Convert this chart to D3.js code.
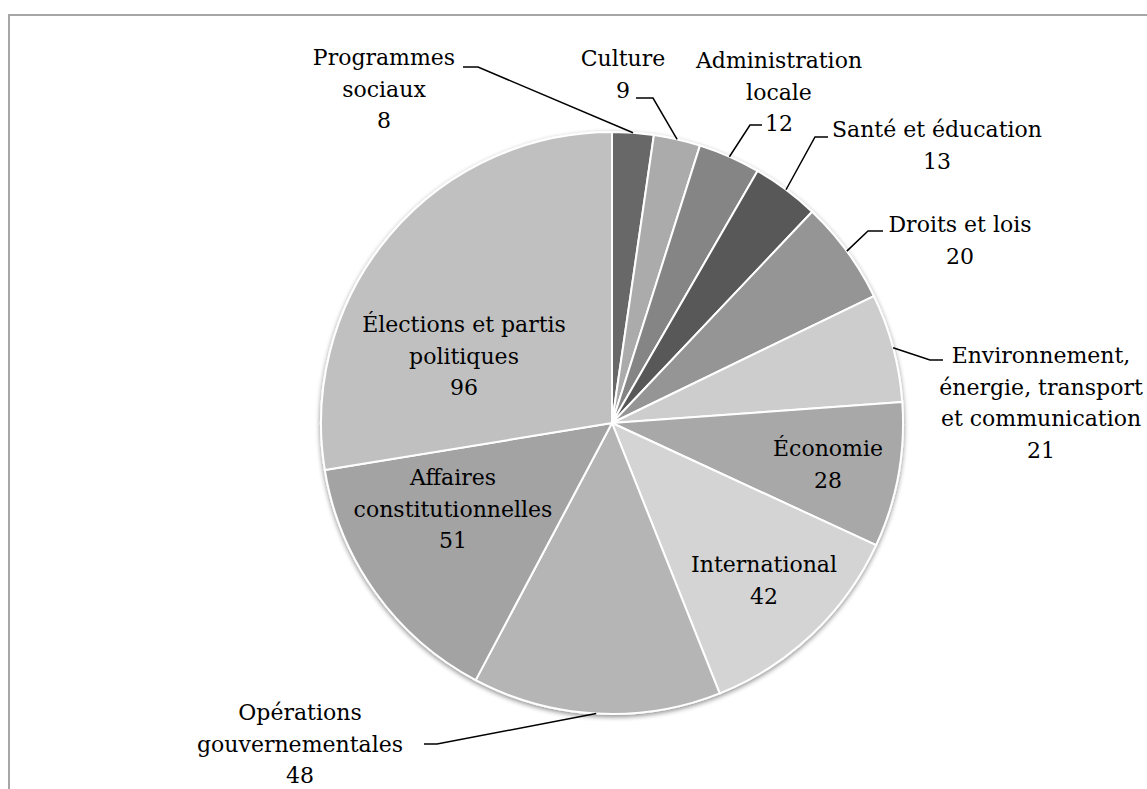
<!DOCTYPE html>
<html>
<head>
<meta charset="utf-8">
<script src="https://cdn.jsdelivr.net/npm/d3@7"></script>
<style>
  html, body { margin: 0; padding: 0; background: #ffffff; }
  svg { display: block; }
  text { font-family: "DejaVu Serif", "Liberation Serif", serif; font-size: 22px; fill: #000; }
</style>
</head>
<body>
<svg id="chart" width="1147" height="789"></svg>
<script>
// Number of items by subject
const categories = [
  "Programmes sociaux", "Culture", "Administration locale", "Santé et éducation",
  "Droits et lois", "Environnement, énergie, transport et communication",
  "Économie", "International", "Opérations gouvernementales",
  "Affaires constitutionnelles", "Élections et partis politiques"
];
const values = [8, 9, 12, 13, 20, 21, 28, 42, 48, 51, 96];

// Text of each data label, split into lines
const labelLines = [
  ["Programmes", "sociaux"], ["Culture"], ["Administration", "locale"],
  ["Santé et éducation"], ["Droits et lois"],
  ["Environnement,", "énergie, transport", "et communication"],
  ["Économie"], ["International"], ["Opérations", "gouvernementales"],
  ["Affaires", "constitutionnelles"], ["Élections et partis", "politiques"]
];

// Grey shade of each slice
const sliceColors = [
  "#686868", "#ababab", "#858585", "#595959", "#959595", "#cdcdcd",
  "#a8a8a8", "#d4d4d4", "#b5b5b5", "#a3a3a3", "#c0c0c0"
];

// Label placement: centre x, first baseline, leader elbow and end (null = inside slice)
const labelLayout = [
  { x: 384, y: 65, leader: [[478, 67], [463, 67]] },
  { x: 623, y: 66, leader: [[653, 98], [636, 98]] },
  { x: 779, y: 68, leader: [[750, 125], [762, 125]] },
  { x: 937, y: 137, leader: [[815, 137], [828, 137]] },
  { x: 960, y: 232, leader: [[868, 231], [883, 231]] },
  { x: 1041, y: 363, leader: [[930, 360], [943, 360]] },
  { x: 828, y: 456, leader: null },
  { x: 764, y: 572, leader: null },
  { x: 300, y: 720, leader: [[437, 744], [424, 744]] },
  { x: 453, y: 485, leader: null },
  { x: 464, y: 332, leader: null }
];

const width = 1147, height = 789;
const cx = 612, cy = 423, radius = 291;
const lineHeight = 31.5;

const svg = d3.select("#chart");

// Chart area frame
svg.append("rect")
  .attr("x", 9).attr("y", 15)
  .attr("width", width + 20).attr("height", height + 20)
  .attr("fill", "#ffffff")
  .attr("stroke", "#a6a6a6")
  .attr("stroke-width", 2);

// Soft outer shadow under the pie
const defs = svg.append("defs");
const shadow = defs.append("filter").attr("id", "pieShadow")
  .attr("x", "-10%").attr("y", "-10%").attr("width", "120%").attr("height", "120%");
shadow.append("feGaussianBlur").attr("in", "SourceAlpha").attr("stdDeviation", 2.5).attr("result", "blur");
shadow.append("feOffset").attr("in", "blur").attr("dx", 0).attr("dy", 2).attr("result", "off");
shadow.append("feComponentTransfer").attr("in", "off").attr("result", "soft")
  .append("feFuncA").attr("type", "linear").attr("slope", 0.45);
const merge = shadow.append("feMerge");
merge.append("feMergeNode").attr("in", "soft");
merge.append("feMergeNode").attr("in", "SourceGraphic");

const color = d3.scaleOrdinal().domain(categories).range(sliceColors);

const pie = d3.pie().sort(null).value((d, i) => values[i]);
const arcs = pie(categories);

const arc = d3.arc().innerRadius(0).outerRadius(radius);

const g = svg.append("g")
  .attr("transform", `translate(${cx},${cy})`)
  .attr("filter", "url(#pieShadow)");

g.selectAll("path.slice")
  .data(arcs)
  .join("path")
  .attr("class", "slice")
  .attr("d", arc)
  .attr("fill", d => color(d.data))
  .attr("stroke", "#ffffff")
  .attr("stroke-width", 2)
  .attr("stroke-linejoin", "round");

// Leader lines from the slice rim to the outside labels
const lineGen = d3.line();
arcs.forEach((d, i) => {
  const lay = labelLayout[i];
  if (!lay.leader) return;
  const mid = (d.startAngle + d.endAngle) / 2;
  const rim = [cx + radius * Math.sin(mid), cy - radius * Math.cos(mid)];
  svg.append("path")
    .attr("d", lineGen([rim, ...lay.leader]))
    .attr("fill", "none")
    .attr("stroke", "#000")
    .attr("stroke-width", 1.5);
});

// Data labels: category name lines and value
arcs.forEach((d, i) => {
  const lay = labelLayout[i];
  const lines = labelLines[i].concat([String(values[i])]);
  const t = svg.append("text")
    .attr("text-anchor", "middle")
    .attr("x", lay.x)
    .attr("y", lay.y);
  lines.forEach((s, k) => {
    t.append("tspan")
      .attr("x", lay.x)
      .attr("y", lay.y + k * lineHeight)
      .text(s);
  });
});
</script>
</body>
</html>
